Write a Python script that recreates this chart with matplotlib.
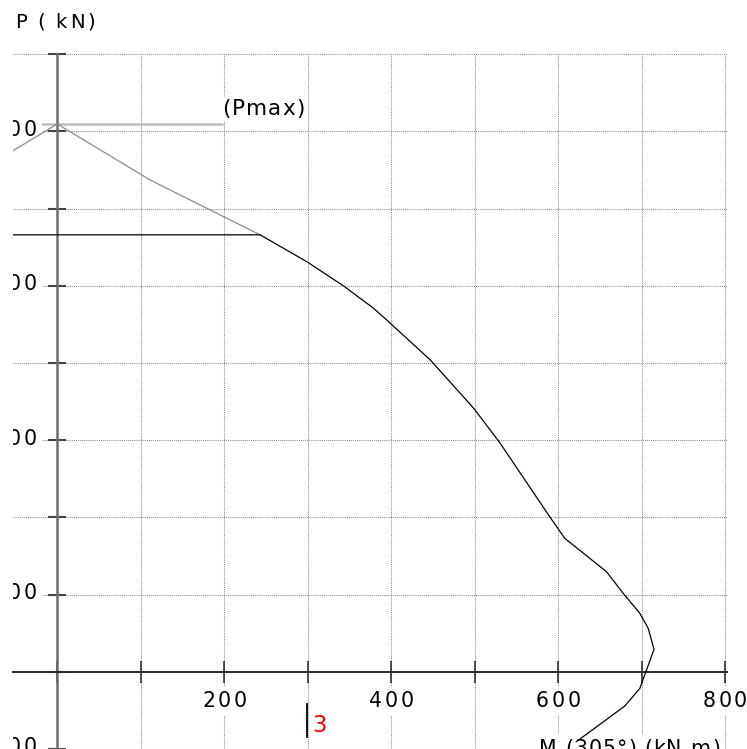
import matplotlib
matplotlib.use("Agg")
import matplotlib.pyplot as plt
from matplotlib.font_manager import FontProperties, findfont, get_font
from matplotlib.transforms import offset_copy

try:
    from matplotlib.ft2font import LoadFlags
    NOHINT = LoadFlags.NO_HINTING
except Exception:
    from matplotlib.ft2font import LOAD_NO_HINTING as NOHINT

# ---------------- data ----------------
gray_M = [-111, 0, 111, 243]
gray_P = [3186, 3548, 3186, 2830]

black_M = [-120, 243, 299, 343, 379, 399, 447, 499, 530, 590, 608, 658, 678, 698, 708, 715, 698, 680, 622]
black_P = [2830, 2830, 2656, 2499, 2354, 2257, 2019, 1706, 1485, 1004, 864, 648, 508, 378, 281, 145, -108, -222, -453]

pmax_M = [-60, 199]
pmax_P = [3548, 3548]

mark_M = [299, 299]
mark_P = [-209, -423]
mark_label = "3"

x_ticks = [0, 100, 200, 300, 400, 500, 600, 700, 800]
x_label_vals = [200, 400, 600, 800]
y_ticks = [-500, 0, 500, 1000, 1500, 2000, 2500, 3000, 3500, 4000]
y_label_vals = [-500, 500, 1500, 2500, 3500]

y_title = "P ( kN)"
x_title = "M (305°) (kN m)"
pmax_text = "(Pmax)"

# ---------------- layout ----------------
W, H, DPI = 747, 749, 100
X0, Y0 = 57.3, 671.7        # pixel of the origin
KX, KY = 0.8346, 0.15437    # pixels per unit
xlim = (-53, 802)
ylim = (-1000, 4003)

fig = plt.figure(figsize=(W / DPI, H / DPI), dpi=DPI)
ax = fig.add_axes([(X0 + xlim[0] * KX) / W,
                   1 - (Y0 - ylim[0] * KY) / H,
                   (xlim[1] - xlim[0]) * KX / W,
                   (ylim[1] - ylim[0]) * KY / H])
ax.set_xlim(xlim)
ax.set_ylim(ylim)

for s in ["top", "right"]:
    ax.spines[s].set_visible(False)
ax.spines["left"].set_position(("data", 0))
ax.spines["left"].set_color("#6e6e6e")
ax.spines["left"].set_linewidth(1.8)
ax.spines["bottom"].set_position(("data", 0))
ax.spines["bottom"].set_color("#2a2a2a")
ax.spines["bottom"].set_linewidth(1.4)

ax.set_xticks(x_ticks)
ax.set_yticks(y_ticks)
ax.tick_params(axis="x", direction="inout", length=15.8, width=1.1, color="#222222", labelbottom=False)
ax.tick_params(axis="y", direction="inout", length=13, width=1.5, color="#444444", labelleft=False)
ax.grid(True, color="#8a8a8a", lw=0.75, ls=(0, (1, 1)))
ax.set_axisbelow(True)


def spaced(x, y, s, size, stretch, ha="left", color="black", bg=False, clip=True, z=4, pad=0.25):
    fp = FontProperties(family="DejaVu Sans", size=size)
    font = get_font(findfont(fp))
    font.set_size(size, DPI)
    adv = [font.load_char(ord(c), flags=NOHINT).linearHoriAdvance / 65536.0 * stretch for c in s]
    total = sum(adv)
    pen = {"left": 0.0, "center": -total / 2, "right": -total}[ha]
    for c, a in zip(s, adv):
        tr = offset_copy(ax.transData, fig=fig, x=pen + a / 2, y=0, units="dots")
        if bg:
            ax.text(x, y, c, transform=tr, ha="center", va="baseline", fontproperties=fp,
                    color="none", zorder=2, clip_on=clip,
                    bbox=dict(boxstyle="square,pad=%g" % pad, fc="white", ec="none"))
        if c != " ":
            ax.text(x, y, c, transform=tr, ha="center", va="baseline", fontproperties=fp,
                    color=color, zorder=z, clip_on=clip)
        pen += a


# lines
ax.plot(pmax_M, pmax_P, color="#bdbdbd", lw=1.8, zorder=1.5, solid_capstyle="butt")
ax.plot(gray_M, gray_P, color="#8a8a8a", lw=0.9, zorder=3)
ax.plot(black_M, black_P, color="black", lw=0.9, zorder=3.2)
ax.plot(mark_M, mark_P, color="black", lw=1.3, zorder=3)

# tick labels
for v in x_label_vals:
    spaced(v, -226.7, str(v), 14.8, 1.2, ha="center", bg=True, clip=False)
for v in y_label_vals:
    spaced(-23.5, v - 29, str(v), 14.8, 1.2, ha="right", bg=True)

# annotations
spaced(-52.6, 4173, y_title, 14.2, 1.25, ha="left", clip=False)
spaced(197.3, 3606, pmax_text, 15.5, 1.08, ha="left", bg=True, pad=0.08)
spaced(305.2, -390.6, mark_label, 16.5, 1.0, ha="left", color="red")
spaced(576, -539.6, x_title, 14.8, 1.1, ha="left", bg=True)

fig.savefig("out.png", dpi=DPI)
